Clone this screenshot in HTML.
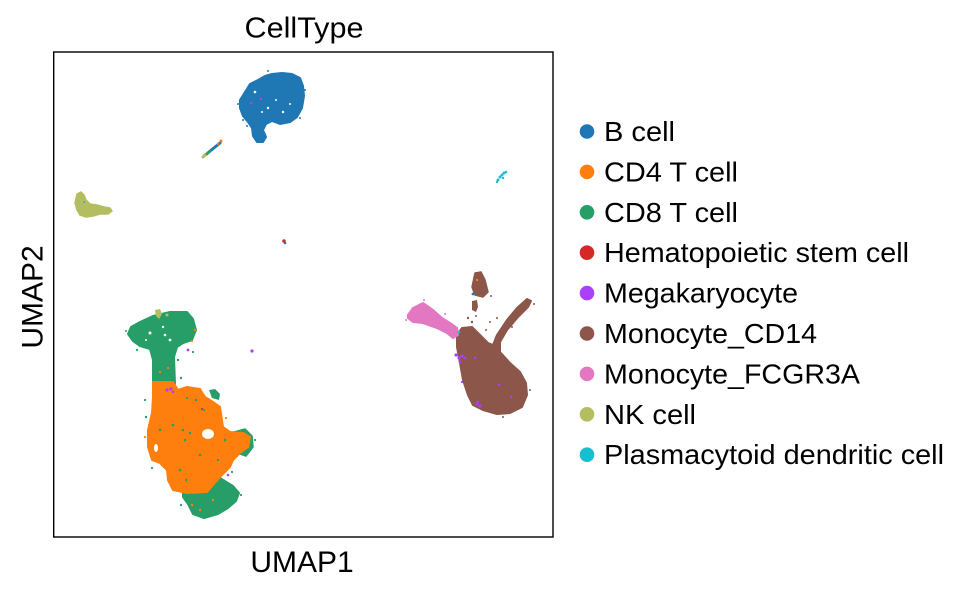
<!DOCTYPE html>
<html>
<head>
<meta charset="utf-8">
<style>
  html,body{margin:0;padding:0;background:#fff;}
  body{width:970px;height:592px;overflow:hidden;}
  svg{display:block;}
  text{font-family:"Liberation Sans", Arial, sans-serif;fill:#000;}
</style>
</head>
<body>
<svg width="970" height="592" viewBox="0 0 970 592" xmlns="http://www.w3.org/2000/svg">
  <rect x="0" y="0" width="970" height="592" fill="#fff"/>

  <!-- ===== clusters ===== -->
  <g stroke-linejoin="round">
    <!-- B cell -->
    <path d="M245,92 L250,84 L258,80 L265,76 L272,74 L282,73 L292,74 L300,78 L303,86 L304,96 L302,108 L297,117 L290,122 L280,124 L272,121 L266,124 L263,130 L266,137 L263,142 L257,142 L253,136 L252,128 L248,122 L243,116 L240,108 L240,100 Z" fill="#1f77b4" stroke="#1f77b4" stroke-width="2"/>
    <g fill="#fff">
      <circle cx="268" cy="108" r="1.2"/><circle cx="276" cy="100" r="1"/><circle cx="283" cy="112" r="1.2"/>
      <circle cx="290" cy="104" r="1"/><circle cx="262" cy="112" r="1"/><circle cx="255" cy="92" r="1.3"/>
    </g>
    <g fill="#1f77b4">
      <circle cx="247" cy="126" r="1"/><circle cx="243" cy="120" r="1"/><circle cx="238" cy="104" r="1"/>
      <circle cx="305" cy="90" r="1"/><circle cx="300" cy="118" r="1"/><circle cx="268" cy="71" r="1"/>
    </g>
    <circle cx="251" cy="103" r="1.4" fill="#aa40fc"/>
    <circle cx="261" cy="99" r="1.2" fill="#aa40fc"/>

    <!-- small streak -->
    <line x1="204" y1="156" x2="220" y2="143" stroke="#1f77b4" stroke-width="3" stroke-linecap="round"/>
    <line x1="203" y1="157" x2="208" y2="153" stroke="#b5bd61" stroke-width="3" stroke-linecap="round"/>
    <line x1="207" y1="154" x2="210" y2="151" stroke="#279e68" stroke-width="2.5" stroke-linecap="round"/>
    <circle cx="221" cy="141" r="1.5" fill="#ff7f0e"/>
    <circle cx="218" cy="144" r="1.2" fill="#ff7f0e"/>

    <!-- NK cell -->
    <path d="M77,194 L81,192 L84,195 L86,200 L90,204 L97,205 L104,207 L110,208 L112,211 L108,214 L100,214 L93,216 L86,217 L80,215 L77,210 L75,203 Z" fill="#b5bd61" stroke="#b5bd61" stroke-width="1.5"/>
    <circle cx="84" cy="202" r="1" fill="#17becf"/>

    <!-- pDC -->
    <g fill="#17becf">
      <circle cx="498" cy="180" r="1.5"/><circle cx="500" cy="177" r="1.5"/><circle cx="502" cy="175" r="1.5"/>
      <circle cx="504" cy="173" r="1.5"/><circle cx="506" cy="172" r="1.3"/><circle cx="497" cy="182" r="1.2"/>
      <circle cx="503" cy="178" r="1.2"/>
    </g>

    <!-- HSC -->
    <circle cx="284" cy="241" r="1.8" fill="#d62728"/>
    <circle cx="285" cy="243" r="1.3" fill="#1f77b4"/>

    <!-- isolated megakaryocyte -->
    <circle cx="252" cy="351" r="1.6" fill="#aa40fc"/>

    <!-- CD8 bottom blob -->
    <path d="M183,489 L195,486 L207,484 L220,478 L233,486 L239,493 L236,501 L228,508 L218,514 L204,518 L193,514 L188,504 L183,497 Z" fill="#279e68" stroke="#279e68" stroke-width="2"/>
    <!-- CD8 right lobe -->
    <path d="M234,432 L245,429 L252,436 L253,447 L246,456 L237,453 Z" fill="#279e68" stroke="#279e68" stroke-width="1.5"/>
    <!-- CD8 small protrusion -->
    <path d="M209,390 L215,389 L220,394 L219,400 L212,398 Z" fill="#279e68"/>

    <!-- CD8 top blob with neck -->
    <path d="M140,322 L153,316 L170,312 L187,312 L193,319 L196,330 L192,340 L183,343 L177,347 L174,357 L175,384 L153,384 L153,360 L150,349 L140,346 L133,341 L128,334 L131,327 Z" fill="#279e68" stroke="#279e68" stroke-width="2"/>
    <g fill="#fff">
      <circle cx="150" cy="333" r="1.5"/><circle cx="165" cy="335" r="1.3"/><circle cx="163" cy="327" r="1.2"/>
      <circle cx="170" cy="340" r="1.4"/><circle cx="146" cy="340" r="1"/>
    </g>
    <!-- olive bits -->
    <path d="M155,310 L160,309 L162,314 L159,319 L156,316 Z" fill="#b5bd61"/>
    <circle cx="167" cy="315" r="1.5" fill="#b5bd61"/>

    <!-- CD4 main body -->
    <path d="M153,382 L173,382 L178,390 L187,387 L200,389 L205,397 L213,402 L220,407 L223,427 L230,432 L243,433 L250,437 L248,447 L240,453 L233,460 L230,467 L220,477 L213,485 L207,492 L187,493 L173,490 L168,480 L167,470 L160,463 L152,460 L148,447 L148,430 L152,413 L153,397 Z" fill="#ff7f0e" stroke="#ff7f0e" stroke-width="2"/>
    <ellipse cx="208" cy="434" rx="6" ry="5" fill="#fff"/>
    <ellipse cx="156" cy="448" rx="2" ry="4" fill="#fff"/>

    <!-- scattered green dots in/around T cells -->
    <g fill="#279e68">
      <circle cx="173" cy="425" r="1.3"/><circle cx="183" cy="430" r="1.3"/><circle cx="190" cy="433" r="1.3"/>
      <circle cx="185" cy="440" r="1.2"/><circle cx="200" cy="455" r="1.2"/><circle cx="180" cy="470" r="1.3"/>
      <circle cx="160" cy="430" r="1.2"/><circle cx="196" cy="400" r="1.2"/><circle cx="225" cy="440" r="1.2"/>
      <circle cx="218" cy="460" r="1.2"/><circle cx="178" cy="360" r="1.2"/><circle cx="181" cy="378" r="1.2"/>
      <circle cx="146" cy="417" r="1.2"/><circle cx="152" cy="468" r="1.1"/><circle cx="225" cy="482" r="1.1"/>
      <circle cx="232" cy="472" r="1.1"/><circle cx="187" cy="398" r="1.1"/><circle cx="204" cy="410" r="1.1"/>
      <circle cx="137" cy="350" r="1.1"/><circle cx="193" cy="352" r="1.1"/><circle cx="160" cy="366" r="1.1"/>
      <circle cx="145" cy="400" r="1.1"/><circle cx="255" cy="440" r="1.1"/><circle cx="241" cy="495" r="1.1"/>
      <circle cx="181" cy="505" r="1.1"/><circle cx="186" cy="480" r="1.1"/><circle cx="126" cy="331" r="1"/>
    </g>
    <!-- scattered orange dots -->
    <g fill="#ff7f0e">
      <circle cx="192" cy="505" r="1.2"/><circle cx="200" cy="510" r="1.2"/><circle cx="213" cy="500" r="1.2"/>
      <circle cx="195" cy="330" r="1.2"/><circle cx="192" cy="341" r="1.1"/><circle cx="240" cy="443" r="1.1"/>
      <circle cx="160" cy="372" r="1.1"/><circle cx="168" cy="368" r="1.1"/><circle cx="226" cy="418" r="1.1"/>
      <circle cx="145" cy="437" r="1.1"/>
    </g>
    <!-- purple dots in T cells -->
    <g fill="#aa40fc">
      <circle cx="167" cy="390" r="1.6"/><circle cx="171" cy="389" r="1.6"/><circle cx="173" cy="392" r="1.3"/>
      <circle cx="188" cy="350" r="1.4"/><circle cx="228" cy="475" r="1.3"/>
    </g>
    <circle cx="202" cy="409" r="1.2" fill="#8c564b"/>

    <!-- Monocyte_CD14 main -->
    <path d="M457,335 L462,328 L472,327 L480,335 L488,343 L493,345 L497,335 L507,320 L517,308 L527,299 L531,301 L528,307 L518,317 L507,330 L500,342 L500,352 L510,363 L520,372 L526,383 L527,395 L522,407 L510,413 L497,414 L483,410 L473,405 L468,395 L463,380 L460,363 L457,347 Z" fill="#8c564b" stroke="#8c564b" stroke-width="2"/>
    <!-- top isolated piece -->
    <path d="M475,273 L481,272 L485,280 L488,292 L483,297 L475,295 L472,287 Z" fill="#8c564b" stroke="#8c564b" stroke-width="1.5"/>
    <path d="M472,301 L477,300 L478,307 L476,312 L472,310 Z" fill="#8c564b"/>
    <g fill="#8c564b">
      <circle cx="468" cy="318" r="1.2"/><circle cx="472" cy="322" r="1.2"/><circle cx="476" cy="316" r="1"/>
      <circle cx="490" cy="322" r="1"/><circle cx="497" cy="318" r="1"/><circle cx="486" cy="330" r="1"/>
      <circle cx="491" cy="296" r="1"/><circle cx="534" cy="304" r="1"/><circle cx="512" cy="327" r="1"/>
      <circle cx="530" cy="390" r="1"/><circle cx="503" cy="417" r="1"/>
    </g>
    <circle cx="473" cy="294" r="1.4" fill="#1f77b4"/>
    <circle cx="477" cy="280" r="1.2" fill="#ff7f0e"/>

    <!-- Monocyte_FCGR3A -->
    <path d="M408,315 L413,308 L423,303 L433,310 L442,318 L450,323 L457,328 L458,335 L453,338 L447,333 L437,328 L423,323 L413,322 L408,318 Z" fill="#e377c2" stroke="#e377c2" stroke-width="2"/>
    <g fill="#e377c2">
      <circle cx="424" cy="300" r="1"/><circle cx="406" cy="320" r="1"/><circle cx="445" cy="314" r="1"/>
    </g>
    <circle cx="459" cy="332" r="1.3" fill="#17becf"/>

    <!-- purple on monocytes -->
    <g fill="#aa40fc">
      <circle cx="456" cy="355" r="1.6"/><circle cx="459" cy="358" r="1.6"/><circle cx="462" cy="356" r="1.5"/>
      <circle cx="460" cy="362" r="1.4"/><circle cx="465" cy="358" r="1.3"/><circle cx="475" cy="358" r="1.2"/>
      <circle cx="477" cy="404" r="1.6"/><circle cx="480" cy="406" r="1.6"/><circle cx="478" cy="402" r="1.3"/>
      <circle cx="499" cy="385" r="1.2"/><circle cx="511" cy="397" r="1.2"/><circle cx="462" cy="382" r="1.1"/>
    </g>
  </g>

  <!-- axes frame -->
  <rect x="53.7" y="52" width="499.3" height="485" fill="none" stroke="#000" stroke-width="1.4"/>

  <!-- title and axis labels -->
  <text x="304" y="37.5" font-size="29" text-anchor="middle" textLength="119" lengthAdjust="spacingAndGlyphs">CellType</text>
  <text x="302" y="572" font-size="30" text-anchor="middle">UMAP1</text>
  <text transform="translate(42.5,297) rotate(-90)" x="0" y="0" font-size="30" text-anchor="middle">UMAP2</text>

  <!-- legend -->
  <g font-size="27.5">
    <circle cx="587" cy="131.5" r="7.3" fill="#1f77b4"/>
    <text x="604" y="141" textLength="71" lengthAdjust="spacingAndGlyphs">B cell</text>
    <circle cx="587" cy="171.9" r="7.3" fill="#ff7f0e"/>
    <text x="604" y="181.4" textLength="134" lengthAdjust="spacingAndGlyphs">CD4 T cell</text>
    <circle cx="587" cy="212.3" r="7.3" fill="#279e68"/>
    <text x="604" y="221.8" textLength="134" lengthAdjust="spacingAndGlyphs">CD8 T cell</text>
    <circle cx="587" cy="252.7" r="7.3" fill="#d62728"/>
    <text x="604" y="262.2" textLength="305" lengthAdjust="spacingAndGlyphs">Hematopoietic stem cell</text>
    <circle cx="587" cy="293.1" r="7.3" fill="#aa40fc"/>
    <text x="604" y="302.6" textLength="194" lengthAdjust="spacingAndGlyphs">Megakaryocyte</text>
    <circle cx="587" cy="333.5" r="7.3" fill="#8c564b"/>
    <text x="604" y="343" textLength="213" lengthAdjust="spacingAndGlyphs">Monocyte_CD14</text>
    <circle cx="587" cy="373.9" r="7.3" fill="#e377c2"/>
    <text x="604" y="383.4" textLength="256" lengthAdjust="spacingAndGlyphs">Monocyte_FCGR3A</text>
    <circle cx="587" cy="414.3" r="7.3" fill="#b5bd61"/>
    <text x="604" y="423.8" textLength="92" lengthAdjust="spacingAndGlyphs">NK cell</text>
    <circle cx="587" cy="454.7" r="7.3" fill="#17becf"/>
    <text x="604" y="464.2" textLength="340" lengthAdjust="spacingAndGlyphs">Plasmacytoid dendritic cell</text>
  </g>
</svg>
</body>
</html>
